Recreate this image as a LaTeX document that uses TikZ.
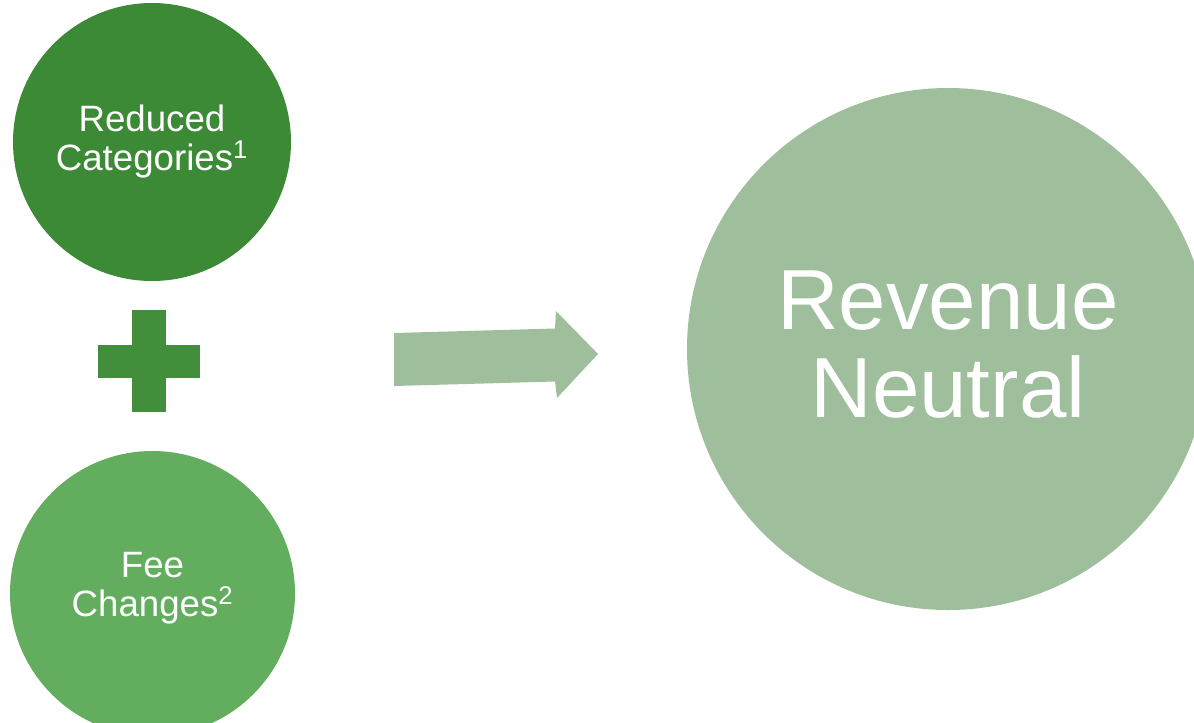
\documentclass[tikz,border=0pt]{standalone}
\usepackage{fontspec}
\setmainfont{Liberation Sans}
\definecolor{darkleaf}{HTML}{3D8A36}
\definecolor{plusleaf}{HTML}{428E3A}
\definecolor{midleaf}{HTML}{63AE5E}
\definecolor{paleleaf}{HTML}{9EBE9C}
\begin{document}
\begin{tikzpicture}[x=0.75pt,y=-0.75pt,
    bubble/.style={circle,inner sep=0pt,text=white,align=center},
    smalltext/.style={font=\fontsize{27.5}{29.25}\selectfont},
    bigtext/.style={font=\fontsize{64}{66}\selectfont}]
    \useasboundingbox (0,0) rectangle (1194,722);
    \clip (0,0) rectangle (1194,722);

    % Kreis oben
    \node[bubble,smalltext,fill=darkleaf,minimum size=208.5pt] (reduced) at (152,142)
        {Reduced\\Categories\textsuperscript{1}};

    % Plus
    \fill[plusleaf] (132,310) rectangle (166,412);
    \fill[plusleaf] (98,345) rectangle (200,378);

    % Kreis unten
    \node[bubble,smalltext,fill=midleaf,minimum size=213.75pt,text depth=13pt] (fee) at (152.5,593.5)
        {Fee\\Changes\textsuperscript{2}};

    % Pfeil
    \fill[paleleaf] (394,333) -- (555,328.5) -- (556,311) -- (598,354)
        -- (557,398) -- (555,381.5) -- (394,386) -- cycle;

    % Kreis rechts
    \node[bubble,bigtext,fill=paleleaf,minimum size=391.5pt,text depth=7.5pt] (neutral) at (948,349)
        {Revenue\\Neutral};
\end{tikzpicture}
\end{document}
